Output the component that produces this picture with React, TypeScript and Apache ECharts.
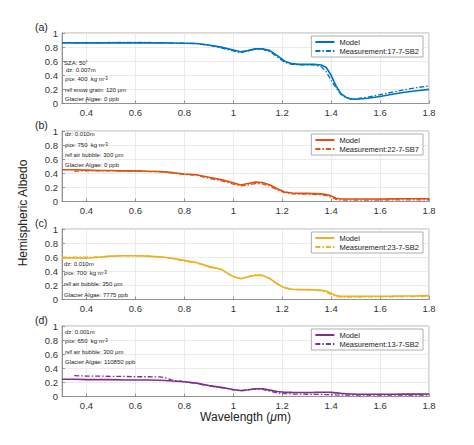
import React, { useEffect, useRef } from "react";
import * as echarts from "echarts";

const wavelengths = [
  0.3, 0.35, 0.4, 0.45, 0.5, 0.55, 0.6, 0.65, 0.7, 0.72, 0.75, 0.8, 0.85, 0.9, 0.95, 1.0, 1.03, 1.06, 1.09, 1.12,
  1.15, 1.18, 1.21, 1.24, 1.27, 1.3, 1.33, 1.36, 1.38, 1.4, 1.42, 1.44, 1.46, 1.48, 1.5, 1.55, 1.6, 1.65, 1.7,
  1.75, 1.8,
];

const modelA = [
  0.86, 0.86, 0.86, 0.86, 0.86, 0.86, 0.86, 0.86, 0.86, 0.86, 0.858, 0.855, 0.85, 0.83, 0.8, 0.76, 0.735, 0.75,
  0.775, 0.775, 0.75, 0.68, 0.6, 0.565, 0.555, 0.555, 0.555, 0.545, 0.51, 0.4, 0.25, 0.14, 0.09, 0.065, 0.06, 0.075,
  0.1, 0.13, 0.16, 0.18, 0.2,
];
const measA = [
  null, 0.86, 0.86, 0.86, 0.865, 0.865, 0.865, 0.865, 0.86, 0.86, 0.858, 0.855, 0.85, 0.825, 0.79, 0.745, 0.72,
  0.745, 0.77, 0.77, 0.735, 0.66, 0.585, 0.555, 0.55, 0.55, 0.55, 0.52, 0.45, 0.33, 0.22, 0.13, 0.085, 0.065, 0.065,
  0.09, 0.125, 0.16, 0.195, 0.225, 0.25,
];
const modelB = [
  0.45, 0.45, 0.445, 0.44, 0.44, 0.435, 0.435, 0.43, 0.425, 0.42, 0.41, 0.39, 0.38, 0.345, 0.31, 0.265, 0.235, 0.255,
  0.275, 0.27, 0.235, 0.18, 0.135, 0.12, 0.115, 0.115, 0.112, 0.108, 0.1, 0.08, 0.045, 0.035, 0.035, 0.035, 0.035,
  0.035, 0.036, 0.037, 0.038, 0.039, 0.04,
];
const measB = [
  null, 0.43, 0.435, 0.435, 0.435, 0.43, 0.43, 0.425, 0.42, 0.415, 0.405, 0.385, 0.372, 0.33, 0.295, 0.245, 0.22,
  0.235, 0.255, 0.25, 0.215, 0.165, 0.125, 0.11, 0.105, 0.105, 0.1, 0.095, 0.085, 0.06, 0.03, 0.02, 0.02, 0.02, 0.02,
  0.02, 0.021, 0.022, 0.023, 0.024, 0.025,
];
const modelC = [
  0.59, 0.59, 0.585, 0.6, 0.615, 0.62, 0.62, 0.615, 0.605, 0.6, 0.585, 0.555, 0.525, 0.47, 0.43, 0.325, 0.295, 0.32,
  0.345, 0.34, 0.295, 0.22, 0.165, 0.145, 0.14, 0.14, 0.137, 0.13, 0.12, 0.09, 0.055, 0.045, 0.045, 0.045, 0.045,
  0.046, 0.047, 0.048, 0.05, 0.052, 0.055,
];
const measC = [
  0.6, 0.6, 0.6, 0.605, 0.615, 0.62, 0.62, 0.615, 0.6, 0.595, 0.58, 0.545, 0.52, 0.46, 0.425, 0.32, 0.3, 0.325, 0.35,
  0.345, 0.3, 0.225, 0.165, 0.145, 0.14, 0.14, 0.135, 0.125, 0.105, 0.07, 0.04, 0.035, 0.035, 0.035, 0.035, 0.036,
  0.037, 0.038, 0.04, 0.042, 0.045,
];
const modelD = [
  0.245, 0.245, 0.24, 0.24, 0.24, 0.235, 0.235, 0.235, 0.23, 0.228, 0.22, 0.21, 0.19, 0.155, 0.13, 0.1, 0.085, 0.095,
  0.11, 0.11, 0.09, 0.07, 0.06, 0.058, 0.057, 0.057, 0.058, 0.06, 0.06, 0.058, 0.052, 0.045, 0.04, 0.035, 0.033,
  0.032, 0.032, 0.032, 0.033, 0.034, 0.035,
];
const measD = [
  null, 0.295, 0.29, 0.29, 0.285, 0.285, 0.28, 0.28, 0.278, 0.27, 0.232, 0.21, 0.185, 0.15, 0.125, 0.095, 0.08, 0.09,
  0.105, 0.1, 0.075, 0.05, 0.04, 0.035, 0.033, 0.032, 0.03, 0.03, 0.028, 0.025, 0.022, 0.02, 0.02, 0.02, 0.02, 0.02,
  0.02, 0.02, 0.02, 0.02, 0.02,
];

const panelLabels = ["(a)", "(b)", "(c)", "(d)"];
const measurementNames = ["Measurement:17-7-SB2", "Measurement:22-7-SB7", "Measurement:23-7-SB2", "Measurement:13-7-SB2"];
const modelSeries = [modelA, modelB, modelC, modelD];
const measSeries = [measA, measB, measC, measD];
const colors = ["#0072BD", "#D95319", "#EDB120", "#7E2F8E"];

const annotationLines = [
  ["SZA: 50{p|°}", "dz: 0.007m", "{g|ρ}{s|ice}: 400  kg m{p|-3}", "r{s|eff} snow grain: 120 {g|μ}m", "Glacier Algae: 0 ppb"],
  ["dz: 0.010m", "{g|ρ}{s|ice}: 750  kg m{p|-3}", "r{s|eff} air bubble: 300 {g|μ}m", "Glacier Algae: 0 ppb"],
  ["dz: 0.010m", "{g|ρ}{s|ice}: 700  kg m{p|-3}", "r{s|eff} air bubble: 350 {g|μ}m", "Glacier Algae: 7775 ppb"],
  ["dz: 0.001m", "{g|ρ}{s|ice}: 650  kg m{p|-3}", "r{s|eff} air bubble: 300 {g|μ}m", "Glacier Algae: 110850 ppb"],
];

const yTickValues = [0, 0.2, 0.4, 0.6, 0.8, 1];

// layout
const gridTops = [33, 131, 229, 326];
const gridHeight = 70.5;
const gridLeft = 62;
const gridRight = 45;
const annotationX = [[64, 66, 65, 65, 65], [65, 65, 65, 65], [64, 64, 64, 64], [65, 65, 65, 65]];
const annotationY = [[63, 70, 79, 90, 99], [134, 145, 155, 165], [264, 273, 284, 295], [332, 341, 352, 362]];

const FONT = "'Liberation Sans', Arial, Helvetica, sans-serif";

export default function App() {
  const ref = useRef<HTMLDivElement>(null);
  useEffect(() => {
    if (!ref.current) return;
    const chart = echarts.init(ref.current, undefined, { renderer: "svg" });

    const grids = gridTops.map((t) => ({
      left: gridLeft,
      right: gridRight,
      top: t,
      height: gridHeight,
      show: true,
      borderColor: "#a0a0a0",
      borderWidth: 0.8,
      backgroundColor: "#fff",
    }));

    const xAxes = gridTops.map((_, i) => ({
      type: "value",
      gridIndex: i,
      min: 0.3,
      max: 1.8,
      splitNumber: 7,
      minInterval: 0.2,
      maxInterval: 0.2,
      axisLine: { show: true, lineStyle: { color: "#808080", width: 0.8 } },
      axisTick: { show: true, inside: true, length: 3, lineStyle: { color: "#808080", width: 0.8 } },
      axisLabel: {
        showMinLabel: false,
        color: "#333",
        fontSize: 9.5,
        fontFamily: FONT,
        margin: 4,
      },
      splitLine: { show: true, lineStyle: { color: "#e6e6e6", width: 0.8 } },
    }));

    const yAxes = gridTops.map((_, i) => ({
      type: "value",
      gridIndex: i,
      min: yTickValues[0],
      max: yTickValues[yTickValues.length - 1],
      interval: 0.2,
      axisLine: { show: true, lineStyle: { color: "#808080", width: 0.8 } },
      axisTick: { show: true, inside: true, length: 3, lineStyle: { color: "#808080", width: 0.8 } },
      axisLabel: { color: "#333", fontSize: 9.5, fontFamily: FONT, margin: 4 },
      splitLine: { show: true, lineStyle: { color: "#e6e6e6", width: 0.8 } },
    }));

    const series: any[] = [];
    const legends: any[] = [];
    gridTops.forEach((t, i) => {
      const mName = "Model#" + i;
      const sName = measurementNames[i] + "#" + i;
      series.push({
        type: "line",
        name: mName,
        xAxisIndex: i,
        yAxisIndex: i,
        symbol: "none",
        showSymbol: false,
        data: wavelengths.map((w, k) => [w, modelSeries[i][k]]),
        lineStyle: { color: colors[i], width: 1.6 },
        itemStyle: { color: colors[i] },
        z: 3,
      });
      series.push({
        type: "line",
        name: sName,
        xAxisIndex: i,
        yAxisIndex: i,
        symbol: "none",
        showSymbol: false,
        data: wavelengths
          .map((w, k) => [w, measSeries[i][k]])
          .filter((p) => p[1] !== null),
        lineStyle: { color: colors[i], width: 1.3, type: [5, 2, 1.5, 2] },
        itemStyle: { color: colors[i] },
        z: 4,
      });
      legends.push({
        data: [mName, sName],
        orient: "vertical",
        right: 51,
        top: t + 3,
        backgroundColor: "#fff",
        borderColor: "#9a9a9a",
        borderWidth: 0.8,
        borderRadius: 0,
        padding: [2, 4, 2, 3],
        itemGap: 1,
        itemWidth: 19,
        itemHeight: 8,
        itemTextGap: 4,
        itemStyle: { opacity: 0 },
        formatter: (name: string) => name.split("#")[0],
        textStyle: { fontSize: 7.5, color: "#222", fontFamily: FONT },
        selectedMode: false,
      });
    });

    const rich = {
      g: { fontSize: 6, fontFamily: FONT, color: "#222" },
      s: { fontSize: 4.5, fontFamily: FONT, color: "#222", verticalAlign: "bottom", lineHeight: 6, padding: [3, 0, 0, 0] },
      p: { fontSize: 4.5, fontFamily: FONT, color: "#222", verticalAlign: "top", lineHeight: 6, padding: [0, 0, 3, 0] },
    };

    const graphics: any[] = [];
    annotationLines.forEach((lines, i) => {
      lines.forEach((txt, j) => {
        graphics.push({
          type: "text",
          x: annotationX[i][j],
          y: annotationY[i][j],
          z: 10,
          style: {
            text: txt,
            fontSize: 6,
            fontFamily: FONT,
            fill: "#222",
            verticalAlign: "middle",
            align: "left",
            rich,
          },
        });
      });
      graphics.push({
        type: "text",
        x: 35,
        y: gridTops[i] - 6,
        style: {
          text: panelLabels[i],
          fontSize: 10.5,
          fontFamily: FONT,
          fill: "#222",
          verticalAlign: "middle",
          align: "left",
        },
      });
    });
    graphics.push({
      type: "text",
      x: 23,
      y: 213,
      rotation: Math.PI / 2,
      style: {
        text: "Hemispheric Albedo",
        fontSize: 12,
        fontFamily: FONT,
        fill: "#222",
        align: "center",
        verticalAlign: "middle",
      },
    });
    graphics.push({
      type: "text",
      x: 245.5,
      y: 417,
      style: {
        text: "Wavelength ({i|μ}m)",
        fontSize: 12,
        fontFamily: FONT,
        fill: "#222",
        align: "center",
        verticalAlign: "middle",
        rich: { i: { fontSize: 12, fontFamily: FONT, fontStyle: "italic", color: "#222" } },
      },
    });

    chart.setOption({
      animation: false,
      backgroundColor: "#fff",
      grid: grids,
      xAxis: xAxes,
      yAxis: yAxes,
      legend: legends,
      series,
      graphic: graphics,
    });
    return () => chart.dispose();
  }, []);

  return (
    <div
      ref={ref}
      style={{ position: "fixed", left: 0, top: 0, width: 474, height: 445, background: "#fff" }}
    />
  );
}
